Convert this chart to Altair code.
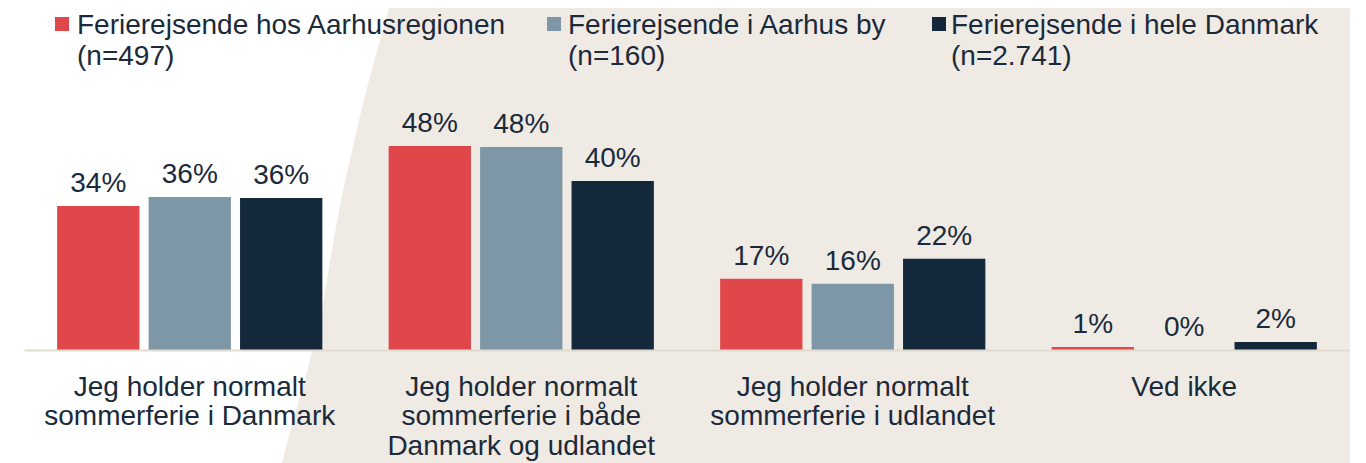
import altair as alt
import pandas as pd

# ---- data ----
categories = [
    "Jeg holder normalt\nsommerferie i Danmark",
    "Jeg holder normalt\nsommerferie i både\nDanmark og udlandet",
    "Jeg holder normalt\nsommerferie i udlandet",
    "Ved ikke",
]
series = [
    "Ferierejsende hos Aarhusregionen",
    "Ferierejsende i Aarhus by",
    "Ferierejsende i hele Danmark",
]
series_n = ["n=497", "n=160", "n=2.741"]
values_region = [33.9, 48.0, 16.8, 0.7]
values_city = [36.0, 47.8, 15.6, 0.0]
values_denmark = [35.8, 39.8, 21.5, 1.9]

# ---- styles / layout ----
colors = ["#E0474A", "#7D97A6", "#14283C"]
TXT = "#1B2A3B"
BEIGE = "#EFEBE4"
BASELINE = "#E2DCD0"
FONT = "Liberation Sans"
FS = 28
W, H = 1326, 342
ORIGIN_X, ORIGIN_Y = 24, 8  # page position of plot origin
RIGHT_EDGE = 1350           # page x where the drawing ends

# decorative background edge (page pixels)
bg_edge_x = [389, 369, 359, 341, 332, 322, 305, 293, 282]
bg_edge_y = [8, 80, 120, 200, 250, 310, 380, 420, 463]
# legend layout (page pixels)
legend_sym_x = [62, 554, 939]
legend_txt_x = [77, 568, 951]
LEGEND_BASE_Y = 34

rows = []
for vals, s in zip([values_region, values_city, values_denmark], series):
    for c, v in zip(categories, vals):
        rows.append({"category": c, "series": s, "value": v})
df = pd.DataFrame(rows)

color_scale = alt.Scale(domain=series, range=colors)

base = alt.Chart(df).transform_calculate(
    label="format(datum.value, '.0f') + '%'"
).encode(
    x=alt.X(
        "category:N",
        sort=categories,
        scale=alt.Scale(paddingInner=0.2, paddingOuter=0.1),
        axis=alt.Axis(
            title=None, labelAngle=0, ticks=False, grid=False,
            domain=True, domainColor=BASELINE, domainWidth=2,
            labelFont=FONT, labelFontSize=FS, labelColor=TXT,
            labelLineHeight=29.5, labelExpr="split(datum.label, '\\n')",
            labelPadding=45, labelBaseline="alphabetic", labelLimit=500,
            labelOverlap=False, zindex=1,
        ),
    ),
    xOffset=alt.XOffset("series:N", sort=series,
                        scale=alt.Scale(paddingInner=0.1, paddingOuter=0)),
    y=alt.Y("value:Q", scale=alt.Scale(domain=[0, 80.5], nice=False), axis=None),
)

bars = base.mark_bar().encode(
    color=alt.Color("series:N", scale=color_scale, legend=None)
)
labels = base.mark_text(
    dy=-14, baseline="alphabetic", align="center", font=FONT, fontSize=FS, color=TXT
).encode(text="label:N")

bg_df = pd.DataFrame({
    "ex": [x - ORIGIN_X for x in bg_edge_x],
    "ey": [y - ORIGIN_Y for y in bg_edge_y],
    "ex2": [RIGHT_EDGE - ORIGIN_X] * len(bg_edge_x),
})
bg = alt.Chart(bg_df).mark_area(orient="horizontal", color=BEIGE).encode(
    y=alt.Y("ey:Q", scale=None, axis=None),
    x=alt.X("ex:Q", scale=None, axis=None),
    x2="ex2:Q",
)

leg_df = pd.DataFrame({
    "series": series,
    "text": [f"{s}\n({n})" for s, n in zip(series, series_n)],
    "sx": [x - ORIGIN_X for x in legend_sym_x],
    "tx": [x - ORIGIN_X for x in legend_txt_x],
})
leg_sq = alt.Chart(leg_df).mark_square(size=196, opacity=1).encode(
    x=alt.X("sx:Q", scale=None, axis=None),
    y=alt.value(LEGEND_BASE_Y - 10 - ORIGIN_Y),
    color=alt.Color("series:N", scale=color_scale, legend=None),
)
leg_txt = alt.Chart(leg_df).mark_text(
    align="left", baseline="alphabetic", lineBreak="\n", lineHeight=31,
    font=FONT, fontSize=FS, color=TXT,
).encode(
    x=alt.X("tx:Q", scale=None, axis=None),
    y=alt.value(LEGEND_BASE_Y - ORIGIN_Y),
    text="text:N",
)

chart = alt.layer(
    bg, alt.layer(bars, labels), leg_sq, leg_txt
).resolve_scale(
    x="independent", y="independent"
).properties(
    width=W, height=H,
    autosize=alt.AutoSizeParams(type="none"),
    padding={"left": 16, "top": 0, "right": 0, "bottom": 113},
    background="white",
).configure_view(stroke=None)

chart.save("out.html", embed_options={"renderer": "svg", "actions": False})
